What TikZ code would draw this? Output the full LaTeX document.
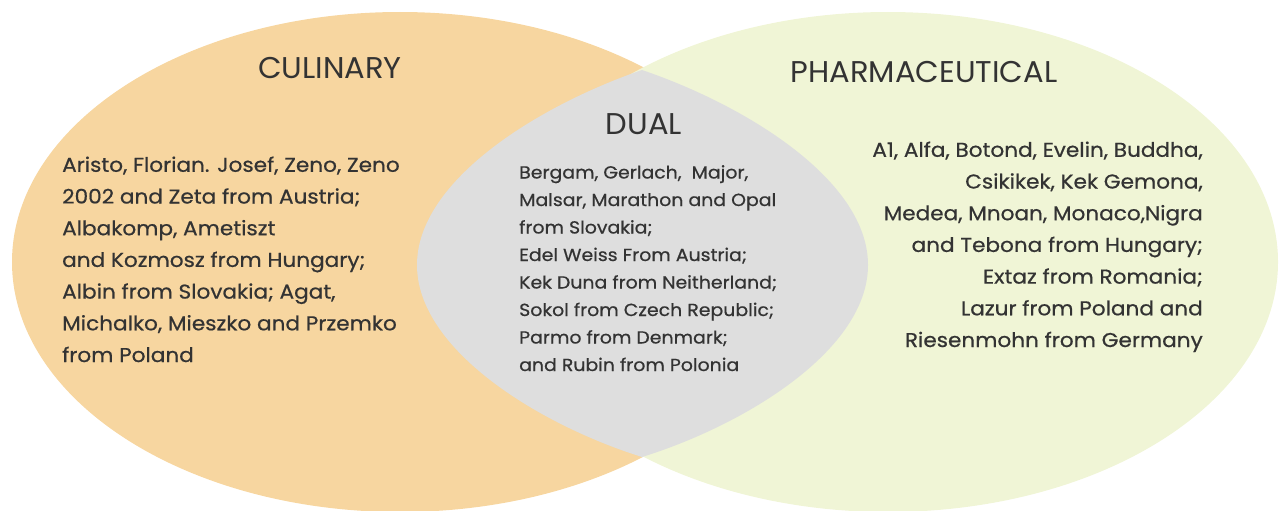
\documentclass[tikz,border=0pt]{standalone}
\usepackage{fontspec}
\setmainfont{Poppins}
\newfontfamily\titlefont{Poppins}[FakeStretch=1.02]
\newfontfamily\bodyfont{Poppins}[FakeBold=0.6,FakeStretch=1.08]
\definecolor{culorange}{HTML}{F7D6A0}
\definecolor{pharmgreen}{HTML}{F0F5D6}
\definecolor{dualgray}{HTML}{DEDEDE}
\definecolor{txt}{HTML}{333333}
\begin{document}
\begin{tikzpicture}[x=1pt,y=-1pt,
  titletext/.style={inner sep=0pt,text=txt,font=\titlefont\fontsize{30}{32}\selectfont},
  bodytext/.style={inner sep=0pt,text=txt,font=\bodyfont\fontsize{20}{31.7}\selectfont},
  dualtext/.style={inner sep=0pt,text=txt,font=\bodyfont\fontsize{17.5}{27.5}\selectfont}]
\useasboundingbox (0,0) rectangle (1287,511);
\begin{scope}
\clip (0,0) rectangle (1287,511);
\fill[culorange] (400,262) ellipse [x radius=388, y radius=250];
\fill[pharmgreen] (888,262) ellipse [x radius=390, y radius=250];
\fill[dualgray] (642,70) .. controls (540,105) and (417,180) .. (417,265)
   .. controls (417,350) and (540,425) .. (642,457)
   .. controls (745,425) and (868,350) .. (868,265)
   .. controls (868,180) and (745,105) .. (642,70) -- cycle;
\end{scope}
\node[titletext,anchor=base] (cul) at (330,78) {CULINARY};
\node[titletext,anchor=base] (pha) at (924,82) {PHARMACEUTICAL};
\node[titletext,anchor=base] (dua) at (644,134) {DUAL};
\node[bodytext,anchor=base west,align=left] (culbody) at (62,362) {Aristo, Florian. Josef, Zeno, Zeno\\2002 and Zeta from Austria;\\Albakomp, Ametiszt\\and Kozmosz from Hungary;\\Albin from Slovakia; Agat,\\Michalko, Mieszko and Przemko\\from Poland};
\node[dualtext,anchor=base west,align=left] (duabody) at (519,371) {Bergam, Gerlach,\ \ Major,\\Malsar, Marathon and Opal\\from Slovakia;\\Edel Weiss From Austria;\\Kek Duna from Neitherland;\\Sokol from Czech Republic;\\Parmo from Denmark;\\and Rubin from Polonia};
\node[bodytext,anchor=base east,align=right] (phabody) at (1203,347) {A1, Alfa, Botond, Evelin, Buddha,\\Csikikek, Kek Gemona,\\Medea, Mnoan, Monaco,Nigra\\and Tebona from Hungary;\\Extaz from Romania;\\Lazur from Poland and\\Riesenmohn from Germany};
\end{tikzpicture}
\end{document}
